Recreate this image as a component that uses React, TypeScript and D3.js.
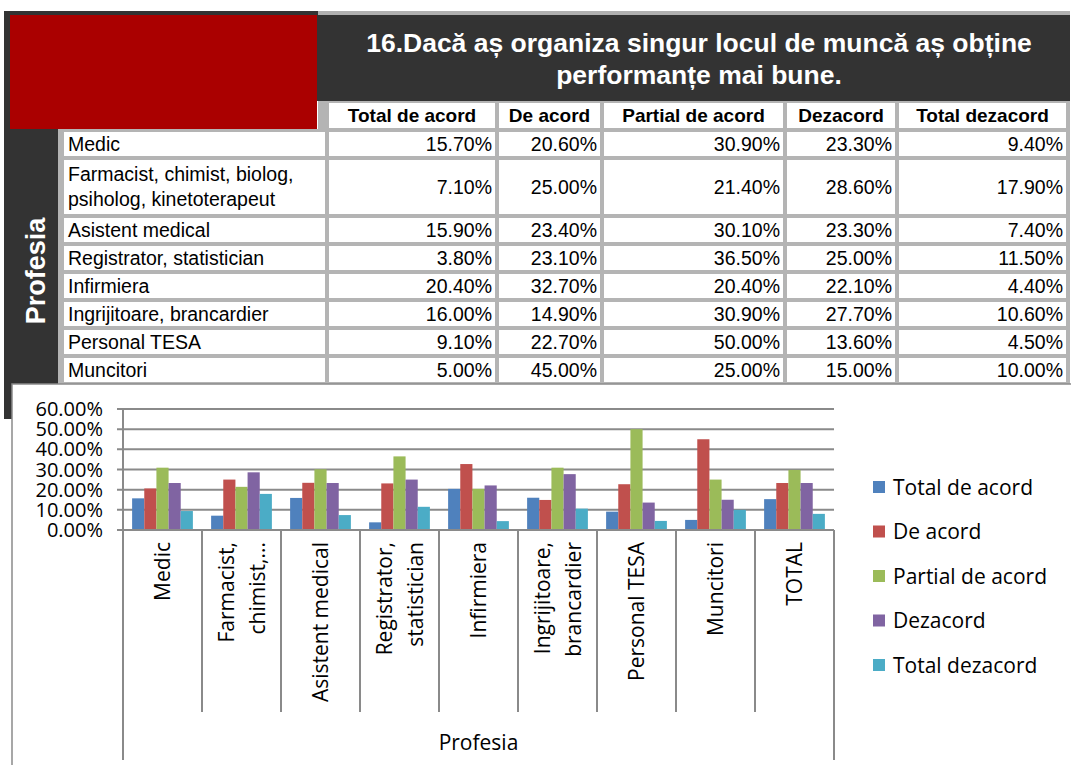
import React from "react";
import * as d3 from "d3";

// ---------- DATA ----------
const seriesNames = ["Total de acord", "De acord", "Partial de acord", "Dezacord", "Total dezacord"];
const seriesColors = ["#4F81BD", "#C0504D", "#9BBB59", "#8064A2", "#4BACC6"];

const tableRowLabels: string[][] = [
  ["Medic"],
  ["Farmacist, chimist, biolog,", "psiholog, kinetoterapeut"],
  ["Asistent medical"],
  ["Registrator, statistician"],
  ["Infirmiera"],
  ["Ingrijitoare, brancardier"],
  ["Personal TESA"],
  ["Muncitori"],
];

const chartCategories: string[][] = [
  ["Medic"],
  ["Farmacist,", "chimist,..."],
  ["Asistent medical"],
  ["Registrator,", "statistician"],
  ["Infirmiera"],
  ["Ingrijitoare,", "brancardier"],
  ["Personal TESA"],
  ["Muncitori"],
  ["TOTAL"],
];

const totalDeAcord = [15.7, 7.1, 15.9, 3.8, 20.4, 16.0, 9.1, 5.0, 15.3];
const deAcord = [20.6, 25.0, 23.4, 23.1, 32.7, 14.9, 22.7, 45.0, 23.3];
const partialDeAcord = [30.9, 21.4, 30.1, 36.5, 20.4, 30.9, 50.0, 25.0, 29.8];
const dezacord = [23.3, 28.6, 23.3, 25.0, 22.1, 27.7, 13.6, 15.0, 23.3];
const totalDezacord = [9.4, 17.9, 7.4, 11.5, 4.4, 10.6, 4.5, 10.0, 8.0];

const yTicks = [0, 10, 20, 30, 40, 50, 60];
const titleLines = ["16.Dacă aș organiza singur locul de muncă aș obține", "performanțe mai bune."];
const axisTitle = "Profesia";

const allSeries = [totalDeAcord, deAcord, partialDeAcord, dezacord, totalDezacord];

// ---------- LAYOUT ----------
const W = 1071;
const H = 765;
const colEdges = [62, 327, 497, 602, 785, 897, 1068];
const rowTop = 131;
const rowUnit = 28;

const plotLeft = 123;
const plotRight = 834;
const plotTop = 409;
const plotBottom = 530;

const fmt = (v: number) => v.toFixed(2) + "%";

export default function App() {
  const tableFont = "'Liberation Sans', Arial, sans-serif";
  const chartFont = "'Open Sans', sans-serif";

  let yAcc = rowTop;
  const rows = tableRowLabels.map((lines, i) => {
    const h = lines.length > 1 ? 58 : rowUnit;
    const r = { y: yAcc, h, lines, i };
    yAcc += h;
    return r;
  });

  const x0 = d3.scaleBand<number>().domain(d3.range(chartCategories.length)).range([plotLeft, plotRight]).padding(0);
  const x1 = d3.scaleBand<number>().domain(d3.range(seriesNames.length)).range([0, x0.bandwidth()]).paddingInner(0).paddingOuter(0.75);
  const y = d3.scaleLinear().domain([0, 60]).range([plotBottom, plotTop]);

  const gridColor = "#8a8a8a";

  return (
    <svg width={W} height={H} style={{ position: "absolute", left: 0, top: 0, background: "#fff" }}>
      {/* dark frame */}
      <rect x={4} y={11} width={1066} height={90} fill="#333333" />
      <rect x={318} y={11} width={752} height={4} fill="#b0b0b0" />
      <rect x={4} y={101} width={58} height={318} fill="#333333" />
      <rect x={10} y={15} width={307} height={114} fill="#AA0000" />
      {/* table background (borders) */}
      <rect x={318} y={101} width={752} height={30} fill="#b4b4b4" />
      <rect x={58} y={129} width={1012} height={258} fill="#b4b4b4" />
      <rect x={10} y={129} width={48} height={2} fill="#333333" />

      {/* title */}
      {titleLines.map((t, i) => (
        <text key={i} x={699} y={52 + i * 32} textAnchor="middle" fill="#fff"
          fontFamily={tableFont} fontWeight="bold" fontSize={26.5}>{t}</text>
      ))}

      {/* header cells */}
      {seriesNames.map((s, j) => (
        <g key={s}>
          <rect x={colEdges[j + 1] + 2} y={103} width={colEdges[j + 2] - colEdges[j + 1] - 4} height={25} fill="#fff" />
          <text x={(colEdges[j + 1] + colEdges[j + 2]) / 2} y={122} textAnchor="middle" fontFamily={tableFont}
            fontWeight="bold" fontSize={19} fill="#000">{s}</text>
        </g>
      ))}

      {/* body rows */}
      {rows.map((r) => (
        <g key={r.i}>
          {d3.range(6).map((c) => (
            <rect key={c} x={colEdges[c] + 2} y={r.y + 1} width={colEdges[c + 1] - colEdges[c] - 4} height={r.h - 4} fill="#fff" />
          ))}
          {r.lines.map((ln, k) => (
            <text key={k} x={68} y={r.y + (r.h - 3) / 2 + 7 + (k - (r.lines.length - 1) / 2) * 25}
              fontFamily={tableFont} fontSize={19.5} fill="#000">{ln}</text>
          ))}
          {allSeries.map((s, j) => (
            <text key={j} x={colEdges[j + 2] - 5} y={r.y + (r.h - 3) / 2 + 7} textAnchor="end"
              fontFamily={tableFont} fontSize={19.5} fill="#000">{fmt(s[r.i])}</text>
          ))}
        </g>
      ))}

      {/* Profesia vertical label */}
      <text transform={`translate(45,271) rotate(-90)`} textAnchor="middle" fill="#fff"
        fontFamily={tableFont} fontWeight="bold" fontSize={27}>{axisTitle}</text>

      {/* chart box */}
      <rect x={12} y={384} width={1070} height={400} fill="#fff" stroke="#8a8a8a" strokeWidth={1.5} />

      {/* gridlines & y ticks */}
      {yTicks.map((t) => (
        <g key={t}>
          <line x1={plotLeft - 6} x2={plotRight} y1={y(t)} y2={y(t)} stroke={gridColor} strokeWidth={2} />
          <text x={103} y={y(t) + 7} textAnchor="end" fontFamily={chartFont} fontSize={20} fill="#000">{fmt(t)}</text>
        </g>
      ))}

      {/* bars */}
      {chartCategories.map((_, ci) => (
        <g key={ci} transform={`translate(${x0(ci)},0)`}>
          {allSeries.map((s, si) => (
            <rect key={si} x={x1(si)} y={y(s[ci])} width={x1.bandwidth()} height={plotBottom - y(s[ci])} fill={seriesColors[si]} />
          ))}
        </g>
      ))}

      {/* axes lines */}
      <line x1={plotLeft} x2={plotLeft} y1={plotTop} y2={760} stroke={gridColor} strokeWidth={2} />
      <line x1={plotLeft} x2={plotRight} y1={plotBottom} y2={plotBottom} stroke={gridColor} strokeWidth={2} />
      {d3.range(1, chartCategories.length).map((i) => (
        <line key={i} x1={x0(i)!} x2={x0(i)!} y1={plotBottom} y2={712} stroke={gridColor} strokeWidth={2} />
      ))}
      <line x1={plotRight} x2={plotRight} y1={plotBottom} y2={760} stroke={gridColor} strokeWidth={2} />

      {/* category labels */}
      {chartCategories.map((lines, ci) => {
        const cx = x0(ci)! + x0.bandwidth() / 2;
        return lines.map((ln, k) => {
          const bx = cx + 7.5 + (k - (lines.length - 1) / 2) * 31;
          return (
            <text key={ci + "-" + k} transform={`translate(${bx},542) rotate(-90)`} textAnchor="end"
              fontFamily={chartFont} fontSize={21} fill="#000">{ln}</text>
          );
        });
      })}

      <text x={(plotLeft + plotRight) / 2} y={750} textAnchor="middle" fontFamily={chartFont} fontSize={21} fill="#000">{axisTitle}</text>

      {/* legend */}
      {seriesNames.map((s, i) => (
        <g key={s} transform={`translate(873,${487 + i * 44.5})`}>
          <rect x={0} y={-6} width={12} height={12} fill={seriesColors[i]} />
          <text x={20} y={7.5} fontFamily={chartFont} fontSize={21} fill="#000">{s}</text>
        </g>
      ))}
    </svg>
  );
}
